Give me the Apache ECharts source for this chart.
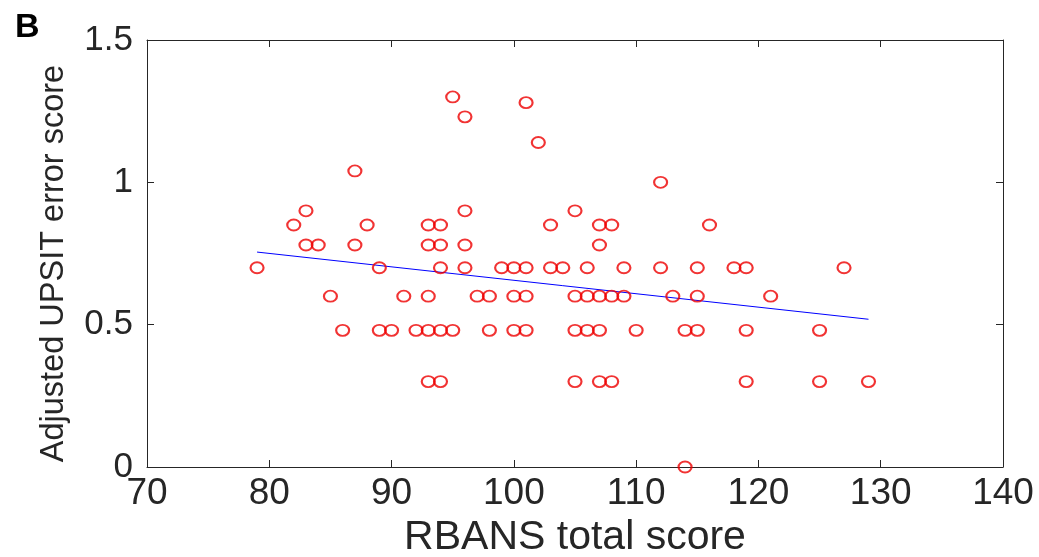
<!DOCTYPE html>
<html>
<head>
<meta charset="utf-8">
<script src="https://cdn.jsdelivr.net/npm/echarts@6/dist/echarts.min.js"></script>
<style>
  html, body { margin: 0; padding: 0; background: #fff; }
  #chart { width: 1039px; height: 557px; }
</style>
</head>
<body>
<div id="chart"></div>
<script>
// RBANS total score (x) vs adjusted UPSIT error score (y), one entry per subject
var rbans = [
    93, 94, 105, 107, 108, 119, 125, 129,
    86, 89, 90, 92, 93, 94, 95, 98, 100, 101, 105, 106, 107, 110, 114, 115, 119, 125,
    85, 91, 93, 97, 98, 100, 101, 105, 106, 107, 108, 109, 113, 115, 121,
    79, 89, 94, 96, 99, 100, 101, 103, 104, 106, 109, 112, 115, 118, 119, 127,
    83, 84, 87, 93, 94, 96, 107,
    82, 88, 93, 94, 103, 107, 108, 116,
    83, 96, 105,
    112, 87, 102, 96, 101, 95, 114
];
var upsit = [
    0.3, 0.3, 0.3, 0.3, 0.3, 0.3, 0.3, 0.3,
    0.48, 0.48, 0.48, 0.48, 0.48, 0.48, 0.48, 0.48, 0.48, 0.48, 0.48, 0.48, 0.48, 0.48, 0.48, 0.48, 0.48, 0.48,
    0.6, 0.6, 0.6, 0.6, 0.6, 0.6, 0.6, 0.6, 0.6, 0.6, 0.6, 0.6, 0.6, 0.6, 0.6,
    0.7, 0.7, 0.7, 0.7, 0.7, 0.7, 0.7, 0.7, 0.7, 0.7, 0.7, 0.7, 0.7, 0.7, 0.7, 0.7,
    0.78, 0.78, 0.78, 0.78, 0.78, 0.78, 0.78,
    0.85, 0.85, 0.85, 0.85, 0.85, 0.85, 0.85, 0.85,
    0.9, 0.9, 0.9,
    1.0, 1.04, 1.14, 1.23, 1.28, 1.3, 0
];
// fitted line end points
var fitX = [79, 129];
var fitY = [0.755, 0.519];

var xTicks = [70, 140, 10];
var yTicks = [0, 1.5, 0.5];

var points = rbans.map(function (x, i) { return [x, upsit[i]]; });
var fitLine = fitX.map(function (x, i) { return [x, fitY[i]]; });

var axisCol = '#262626';
var fontFam = '"Liberation Sans", Arial, sans-serif';

function xAx(pos, show) {
    return {
        type: 'value', position: pos,
        min: xTicks[0], max: xTicks[1], interval: xTicks[2],
        name: show ? 'RBANS total score' : '',
        nameLocation: 'middle', nameGap: 50,
        nameTextStyle: { color: axisCol, fontSize: 41, fontFamily: fontFam },
        axisLine: { onZero: false, lineStyle: { color: axisCol, width: 1 } },
        axisTick: { show: true, inside: true, length: 7, lineStyle: { color: axisCol } },
        axisLabel: { show: show, color: axisCol, fontSize: 37, fontFamily: fontFam, margin: 8 },
        splitLine: { show: false }
    };
}
function yAx(pos, show) {
    return {
        type: 'value', position: pos,
        min: yTicks[0], max: yTicks[1], interval: yTicks[2],
        name: show ? 'Adjusted UPSIT error score' : '',
        nameLocation: 'middle', nameGap: 76,
        nameTextStyle: { color: axisCol, fontSize: 32.5, fontFamily: fontFam, padding: [0, 20, 0, 0] },
        axisLine: { onZero: false, lineStyle: { color: axisCol, width: 1 } },
        axisTick: { show: true, inside: true, length: 7, lineStyle: { color: axisCol } },
        axisLabel: { show: show, color: axisCol, fontSize: 35, fontFamily: fontFam, margin: 14 },
        splitLine: { show: false }
    };
}

var chart = echarts.init(document.getElementById('chart'));
chart.setOption({
    backgroundColor: '#fff',
    animation: false,
    title: {
        text: 'B', left: 10, top: 6,
        textStyle: { color: '#000', fontSize: 34, fontWeight: 'bold', fontFamily: fontFam }
    },
    grid: { left: 147, top: 40, right: 36, bottom: 90, outerBoundsMode: 'none' },
    xAxis: [xAx('bottom', true), xAx('top', false)],
    yAxis: [yAx('left', true), yAx('right', false)],
    series: [
        {
            type: 'scatter',
            data: points,
            symbol: 'path://M0,5A5,5 0 1 1 10,5A5,5 0 1 1 0,5Z',
            symbolSize: [13, 11],
            itemStyle: { color: 'transparent', borderColor: '#ee0000', borderWidth: 2 },
            z: 3
        },
        {
            type: 'line',
            data: fitLine,
            symbol: 'none',
            lineStyle: { color: '#0000ff', width: 1 },
            z: 2
        }
    ]
});
</script>
</body>
</html>
